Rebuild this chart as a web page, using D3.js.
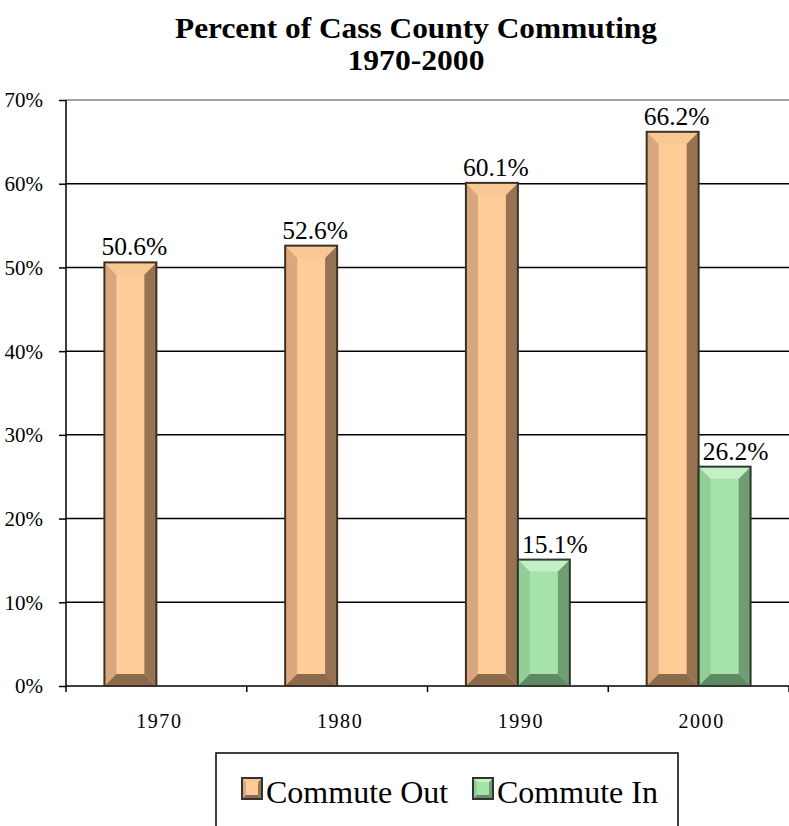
<!DOCTYPE html>
<html><head><meta charset="utf-8">
<script src="https://cdn.jsdelivr.net/npm/d3@7"></script>
<style>body{margin:0;background:#fff}svg{display:block}text{font-family:"Liberation Serif","Times New Roman",serif}</style>
</head><body>
<script>
const categories = ["1970","1980","1990","2000"];
const seriesNames = ["Commute Out","Commute In"];
const commuteOut = [50.6, 52.6, 60.1, 66.2];
const commuteIn = [null, null, 15.1, 26.2];
const yTicks = [0,10,20,30,40,50,60,70];
const titleLines = ["Percent of Cass County Commuting","1970-2000"];

const W=789,H=826;
const svg=d3.select("body").append("svg").attr("width",W).attr("height",H);
const m={l:66,r:789,t:100,b:686};
const x=d3.scaleBand().domain(categories).range([m.l,m.r]).paddingInner(0.425).paddingOuter(0.2125);
const xs=d3.scaleBand().domain(seriesNames).range([0,x.bandwidth()]);
const y=d3.scaleLinear().domain([0,70]).range([m.b,m.t]);

const titleW=[482,137];
svg.selectAll(".title").data(titleLines).join("text").attr("class","title")
 .attr("x",416).attr("y",(d,i)=>37.5+i*32).attr("text-anchor","middle").attr("font-weight","bold").attr("font-size",29)
 .attr("textLength",(d,i)=>titleW[i]).attr("lengthAdjust","spacingAndGlyphs").text(d=>d);

// gridlines
svg.append("g").selectAll("line").data(yTicks.filter(d=>d>0)).join("line")
 .attr("x1",m.l).attr("x2",m.r).attr("y1",d=>y(d)).attr("y2",d=>y(d))
 .attr("stroke",d=>d===70?"#808080":"#000").attr("stroke-width",1.5);

// y axis
const ya=svg.append("g").attr("transform",`translate(${m.l},0)`).call(d3.axisLeft(y).tickValues(yTicks).tickFormat(d=>d+"%").tickSize(7).tickPadding(16));
ya.select(".domain").attr("stroke","#000").attr("stroke-width",1.5).attr("d",`M0,${m.t}V${m.b}`);
ya.selectAll(".tick line").attr("stroke","#000").attr("stroke-width",1.5);
ya.selectAll(".tick text").attr("font-family",null).attr("font-size",21).attr("fill","#000").attr("dy","0.33em");

// x axis
const xa=svg.append("g").attr("transform",`translate(0,${m.b})`);
xa.append("line").attr("x1",m.l).attr("x2",m.r).attr("stroke","#000").attr("stroke-width",1.5);
const bounds=[m.l].concat(categories.map(c=>x(c)+x.bandwidth()+x.step()*x.paddingInner()/2));
xa.selectAll(".xt").data(bounds).join("line").attr("x1",d=>d).attr("x2",d=>d).attr("y1",0).attr("y2",6).attr("stroke","#000").attr("stroke-width",1.5);
xa.selectAll(".xl").data(categories).join("text").attr("x",d=>x(d)+x.bandwidth()/2+3).attr("y",42)
 .attr("text-anchor","middle").attr("font-size",20).attr("letter-spacing","1.6px").text(d=>d);

const pal={
 "Commute Out":{face:"#FFCC99",left:"#D8A77D",right:"#977352",top:"#F8C894",bottom:"#8C6B4D",stroke:"#3B3026"},
 "Commute In":{face:"#A6E3AB",left:"#92CF97",right:"#6F9E73",top:"#C4F0C7",bottom:"#5F8A62",stroke:"#2C3A2D"}
};
function bevelBar(g,x0,x1,y0,y1,p,bv){
 const b=Math.min(bv||12,(x1-x0)/4,(y1-y0)/2);
 g.append("rect").attr("x",x0).attr("y",y0).attr("width",x1-x0).attr("height",y1-y0).attr("fill",p.face);
 g.append("polygon").attr("points",[[x0,y0],[x0+b,y0+b],[x0+b,y1-b],[x0,y1]].join(" ")).attr("fill",p.left);
 g.append("polygon").attr("points",[[x1,y0],[x1-b,y0+b],[x1-b,y1-b],[x1,y1]].join(" ")).attr("fill",p.right);
 g.append("polygon").attr("points",[[x0,y0],[x1,y0],[x1-b,y0+b],[x0+b,y0+b]].join(" ")).attr("fill",p.top);
 g.append("polygon").attr("points",[[x0,y1],[x1,y1],[x1-b,y1-b],[x0+b,y1-b]].join(" ")).attr("fill",p.bottom);
 g.append("rect").attr("x",x0).attr("y",y0).attr("width",x1-x0).attr("height",y1-y0).attr("fill","none").attr("stroke",p.stroke).attr("stroke-width",2);
}
const series=[commuteOut,commuteIn];
const bars=svg.append("g");
seriesNames.forEach((s,si)=>{
 categories.forEach((c,ci)=>{
  const v=series[si][ci]; if(v==null) return;
  const x0=x(c)+xs(s), x1=x0+xs.bandwidth();
  bevelBar(bars,x0,x1,y(v),y(0),pal[s]);
  svg.append("text").attr("x",(x0+x1)/2+(si===1?11:4)).attr("y",y(v)-7).attr("text-anchor","middle")
   .attr("font-size",25.5).text(v.toFixed(1)+"%");
 });
});

// legend
const lg=svg.append("g");
lg.append("rect").attr("x",216).attr("y",753).attr("width",462).attr("height",80).attr("fill","#fff").attr("stroke","#000").attr("stroke-width",1.5);
const lx=[242,473];
seriesNames.forEach((s,i)=>{
 bevelBar(lg,lx[i],lx[i]+20,778,799,{...pal[s],stroke:"#333"},4);
 lg.append("text").attr("x",lx[i]+24).attr("y",803).attr("font-size",32).text(s);
});
</script>
</body></html>
